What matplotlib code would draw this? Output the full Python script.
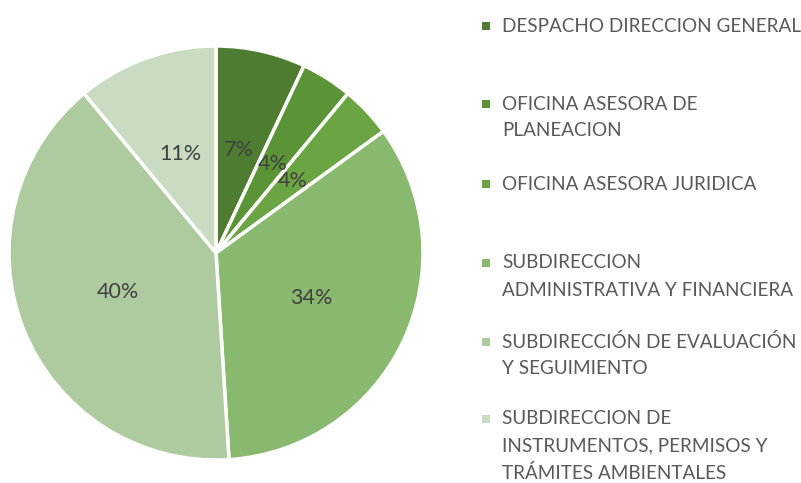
import matplotlib.pyplot as plt
from matplotlib.patches import Rectangle

categories = [
    "DESPACHO DIRECCION GENERAL",
    "OFICINA ASESORA DE\nPLANEACION",
    "OFICINA ASESORA JURIDICA",
    "SUBDIRECCION\nADMINISTRATIVA Y FINANCIERA",
    "SUBDIRECCIÓN DE EVALUACIÓN\nY SEGUIMIENTO",
    "SUBDIRECCION DE\nINSTRUMENTOS, PERMISOS Y\nTRÁMITES AMBIENTALES",
]
shares = [7, 4, 4, 34, 40, 11]
colors = ["#4E7D32", "#5B9437", "#6BA443", "#89B86F", "#AECB9F", "#C9DBC1"]

W, H = 801, 483
fig = plt.figure(figsize=(W / 100, H / 100), dpi=100)
font = "Lato"
text_color = "#595959"

# pie centred at (216, 253) px with radius 207 px
cx, cy, r = 216, 253, 207
ax = fig.add_axes([(cx - r) / W, (H - cy - r) / H, 2 * r / W, 2 * r / H])
wedges, texts, autotexts = ax.pie(
    shares, colors=colors, startangle=90, counterclock=False,
    radius=1, autopct="%d%%", pctdistance=0.51,
    wedgeprops=dict(edgecolor="white", linewidth=2.5),
    textprops=dict(color="#404040", fontsize=15.5, family=font),
)
ax.set_xlim(-1.0, 1.0)
ax.set_ylim(-1.0, 1.0)
ax.set_aspect("equal")
ax.axis("off")

# legend on the right
entry_tops = [26, 104, 184, 263, 342, 419]
line_h = 27
for label, color, top in zip(categories, colors, entry_tops):
    fig.patches.append(Rectangle(((486 - 4) / W, (H - top - 4) / H), 8 / W, 8 / H,
                                 transform=fig.transFigure, facecolor=color,
                                 edgecolor="none"))
    for i, line in enumerate(label.split("\n")):
        fig.text(502 / W, (H - top - i * line_h) / H, line, ha="left", va="center",
                 fontsize=13.6, color=text_color, family=font)

fig.savefig("out.png", dpi=100)
